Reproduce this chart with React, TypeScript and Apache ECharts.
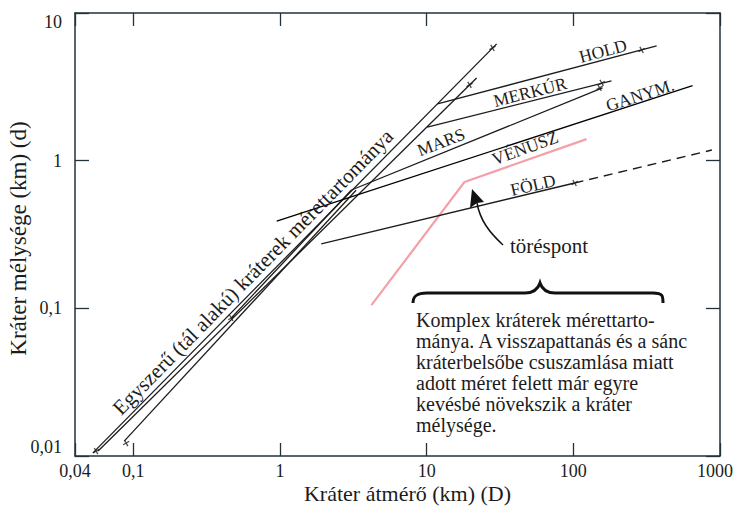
import React, { useEffect, useRef } from 'react';
import * as echarts from 'echarts';

const FONT = '"Liberation Serif", "Times New Roman", serif';
const INK = '#1c1c1c';
const AXIS = '#22323a';

// Axis ranges (log-log)
const xRange = [0.04, 1000];
const yRange = [0.01, 10];

// Lines: [diameter D (km), depth d (km)]
const moonSimple = [[0.053, 0.0105], [30.0, 6.18]];
const moonComplex = [[11.85, 2.42], [370, 6.0]];
const mercurySimple = [[0.0575, 0.0108], [21.9, 3.63]];
const mercuryComplex = [[10.1, 1.69], [182, 3.47]];
const marsSimple = [[0.465, 0.086], [3.07, 0.633]];
const marsComplex = [[3.07, 0.633], [158, 3.11]];
const earthSimple = [[0.0866, 0.0126], [3.3, 0.63]];
const earthComplex = [[1.91, 0.273], [102, 0.706]];
const earthExtrapolated = [[102, 0.706], [880, 1.18]];
const ganymedeLine = [[0.95, 0.39], [650, 3.22]];
const venusLine = [[4.2, 0.105], [18.1, 0.717], [123, 1.4]];
const tickMarks = [
  [28.1, 5.8], [19.6, 3.26], [292, 5.62], [156, 3.36], [151, 3.11],
  [102, 0.706], [0.0557, 0.0108], [0.0893, 0.01224], [0.465, 0.086],
];

const BRACE_D =
  'M0,20 C0,13 4,10 14,10 L112,10 C121,10 125,6 127,0 C129,6 133,10 142,10 L240,10 C250,10 250,13 250,20';
echarts.graphic.registerShape('brace', echarts.graphic.extendPath(BRACE_D, {}));

const fmtNum = (v: number) => String(parseFloat(Number(v).toPrecision(6))).replace('.', ',');
const fmtX = (v: number) => (v >= 999 ? `{m|${fmtNum(v)}}` : fmtNum(v));

const line = (name: string, data: number[][], extra: any = {}) => ({
  type: 'line',
  name,
  data,
  xAxisIndex: 0,
  yAxisIndex: 0,
  symbol: 'none',
  showSymbol: false,
  silent: true,
  z: 3,
  lineStyle: { color: INK, width: 1.3 },
  ...extra,
});

const txt = (text: string, x: number, y: number, deg: number, size: number, extra: any = {}) => ({
  type: 'text',
  x,
  y,
  rotation: (deg * Math.PI) / 180,
  silent: true,
  z: 10,
  style: {
    text,
    font: `${size}px ${FONT}`,
    fill: INK,
    align: 'center',
    verticalAlign: 'middle',
    ...extra,
  },
});

const paragraph = [
  'Komplex kráterek mérettarto-',
  'mánya. A visszapattanás és a sánc',
  'kráterbelsőbe csuszamlása miatt',
  'adott méret felett már egyre',
  'kevésbé növekszik a kráter',
  'mélysége.',
];

const axisCommon = {
  type: 'log',
  logBase: 10,
  axisLine: { show: true, lineStyle: { color: AXIS, width: 1.5 } },
  axisTick: { show: true, inside: true, length: 13, lineStyle: { color: AXIS, width: 1.3 } },
  splitLine: { show: false },
  minorTick: { show: false },
  minorSplitLine: { show: false },
  nameMoveOverlap: false,
};

const option: any = {
  animation: false,
  backgroundColor: '#ffffff',
  grid: {
    left: 75,
    right: 15,
    top: 13,
    bottom: 51,
    containLabel: false,
    outerBoundsMode: 'none',
  },
  xAxis: [
    {
      ...axisCommon,
      min: xRange[0],
      max: xRange[1],
      position: 'bottom',
      axisLabel: {
        margin: 6,
        color: INK,
        fontFamily: FONT,
        fontSize: 18,
        lineHeight: 18,
        formatter: fmtX,
        rich: { m: { color: INK, fontFamily: FONT, fontSize: 18, lineHeight: 18, padding: [0, 10, 0, 0] } },
      },
      name: 'Kráter átmérő (km) (D)',
      nameLocation: 'middle',
      nameGap: 26.5,
      nameTextStyle: { fontFamily: FONT, fontSize: 22, lineHeight: 22, color: INK, padding: [0, 0, 0, 20] },
    },
    {
      ...axisCommon,
      min: xRange[0],
      max: xRange[1],
      position: 'top',
      axisLabel: { show: false },
    },
  ],
  yAxis: [
    {
      ...axisCommon,
      min: yRange[0],
      max: yRange[1],
      position: 'left',
      axisTick: { show: true, inside: true, length: 14, lineStyle: { color: AXIS, width: 1.3 } },
      axisLabel: {
        margin: 13,
        color: INK,
        fontFamily: FONT,
        fontSize: 18,
        formatter: fmtNum,
        verticalAlignMinLabel: 'bottom',
        verticalAlignMaxLabel: 'top',
      },
      name: 'Kráter mélysége (km) (d)',
      nameLocation: 'middle',
      nameGap: 45,
      nameTextStyle: { fontFamily: FONT, fontSize: 23, color: INK, padding: [0, 8, 0, 0] },
    },
    {
      ...axisCommon,
      min: yRange[0],
      max: yRange[1],
      position: 'right',
      axisTick: { show: true, inside: true, length: 14, lineStyle: { color: AXIS, width: 1.3 } },
      axisLabel: { show: false },
    },
  ],
  series: [
    line('Hold egyszerű', moonSimple),
    line('Hold komplex', moonComplex),
    line('Merkúr egyszerű', mercurySimple),
    line('Merkúr komplex', mercuryComplex),
    line('Mars egyszerű', marsSimple),
    line('Mars komplex', marsComplex),
    line('Föld egyszerű', earthSimple),
    line('Föld komplex', earthComplex),
    line('Föld extrapolált', earthExtrapolated, { lineStyle: { color: INK, width: 1.5, type: [9, 6] } }),
    line('Ganymedes', ganymedeLine, { lineStyle: { color: '#000', width: 1.4 } }),
    line('Vénusz', venusLine, { lineStyle: { color: '#f4a0a8', width: 2.2 }, z: 2 }),
    {
      type: 'scatter',
      name: 'jelek',
      data: tickMarks,
      symbol: 'path://M5,0L5,10M0,5L10,5',
      symbolSize: 7,
      symbolRotate: 30,
      silent: true,
      z: 4,
      itemStyle: { color: 'rgba(0,0,0,0)', borderColor: INK, borderWidth: 1.3 },
    },
  ],
  graphic: [
    txt('HOLD', 603, 51, 15, 17.5),
    txt('MERKÚR', 530, 92, 14, 17.5),
    txt('MARS', 441, 142, 21, 17.5),
    txt('GANYM.', 640, 95, 18, 17.5),
    txt('VÉNUSZ', 525, 148, 20, 17.5),
    txt('FÖLD', 533, 185, 13, 17.5),
    txt('Egyszerű (tál alakú) kráterek mérettartománya', 253, 272, 45.6, 21),
    txt('töréspont', 549, 246, 0, 21),
    {
      type: 'text',
      x: 416,
      y: 309.5,
      silent: true,
      z: 10,
      style: {
        text: paragraph.join('\n'),
        font: `20px ${FONT}`,
        lineHeight: 21,
        fill: INK,
        align: 'left',
        verticalAlign: 'top',
      },
    },
    {
      type: 'brace',
      x: 413,
      y: 283,
      silent: true,
      z: 10,
      style: { stroke: '#111', lineWidth: 3, fill: 'none' },
    },
    {
      type: 'bezierCurve',
      silent: true,
      z: 10,
      shape: { x1: 503, y1: 245, cpx1: 489, cpy1: 232, cpx2: 480, cpy2: 220, x2: 477, y2: 203 },
      style: { stroke: '#111', lineWidth: 1.5, fill: 'none' },
    },
    {
      type: 'polygon',
      silent: true,
      z: 10,
      shape: { points: [[472, 189], [470, 208], [477, 203], [484, 202]] },
      style: { fill: '#111' },
    },
  ],
};

export default function App() {
  const ref = useRef<HTMLDivElement>(null);
  useEffect(() => {
    document.body.style.margin = '0';
    const chart = echarts.init(ref.current as HTMLDivElement, null, { renderer: 'svg' });
    chart.setOption(option);
    return () => chart.dispose();
  }, []);
  return <div ref={ref} style={{ width: 735, height: 507, background: '#fff' }} />;
}
